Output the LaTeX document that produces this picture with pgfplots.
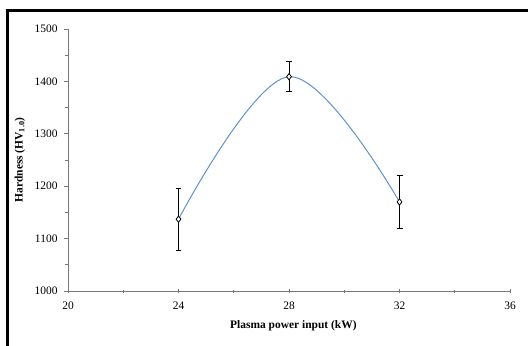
\documentclass[border=0pt]{standalone}
\usepackage{pgfplots}
\pgfplotsset{compat=1.18}
\usepackage{fontspec}
\setmainfont{Liberation Serif}
\definecolor{exblue}{RGB}{91,146,210}
\definecolor{axgray}{RGB}{120,120,120}
\pgfplotstableread{
x y ey
24 1137 59
28 1409 29
32 1170 50
}\hardness
\begin{document}
\begin{tikzpicture}[x=1bp,y=1bp]
\useasboundingbox (0,0) rectangle (528,345);
\draw[line width=3bp] (7.5,-20) -- (7.5,334.5) -- (560,334.5);
\begin{axis}[
  at={(68bp,54bp)}, anchor=south west,
  scale only axis, width=442bp, height=262bp,
  xmin=20, xmax=36, ymin=1000, ymax=1500,
  axis lines*=left,
  axis line style={axgray, line width=0.9pt},
  xtick={20,24,...,36}, ytick={1000,1100,...,1500},
  minor x tick num=1, minor y tick num=1,
  tick style={axgray, line width=0.8pt},
  major tick length=4bp, minor tick length=3bp,
  xtick align=center, ytick align=outside,
  tick label style={font=\fontsize{11.5}{13}\selectfont, black},
  xticklabel style={yshift=-5bp},
  yticklabel style={xshift=-3bp},
  /pgf/number format/assume math mode=true,
  /pgf/number format/1000 sep={},
  xlabel={Plasma power input (kW)},
  ylabel={Hardness (HV\textsubscript{1.0})},
  label style={font=\fontsize{11.5}{13}\selectfont\bfseries},
  xlabel style={at={(axis description cs:0.51,-0.134)}, anchor=center},
  ylabel style={at={(axis description cs:-0.109,0.5)}, anchor=center},
  clip=false,
]
\addplot[exblue, line width=1pt, smooth, tension=0.6, no marks] table[x=x,y=y] {\hardness};
\addplot[only marks, mark=diamond*, mark size=3.2pt,
  mark options={draw=black, fill=white, line width=0.8pt},
  error bars/.cd, y dir=both, y explicit,
  error bar style={black, line width=0.8pt},
  error mark options={rotate=90, mark size=3pt, black, line width=0.8pt}]
  table[x=x, y=y, y error=ey] {\hardness};
\end{axis}
\end{tikzpicture}
\end{document}
